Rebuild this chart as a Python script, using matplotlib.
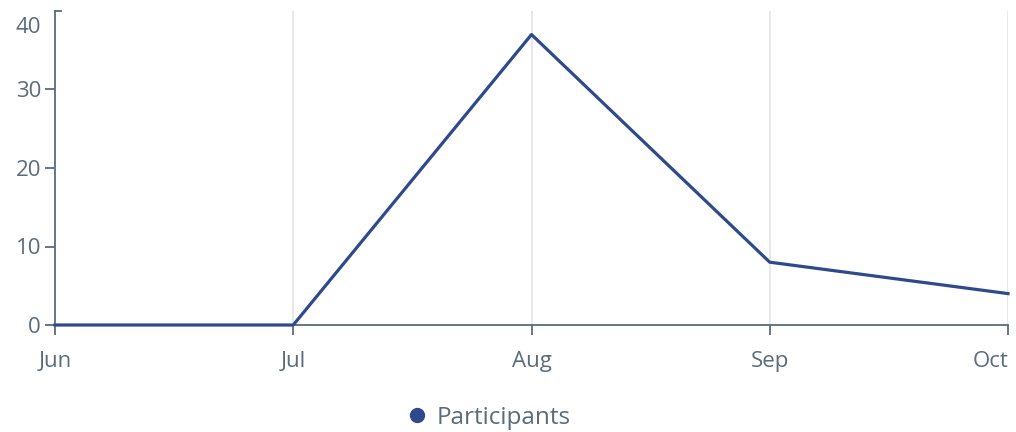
import matplotlib.pyplot as plt
from matplotlib.lines import Line2D

# data
months = ['Jun', 'Jul', 'Aug', 'Sep', 'Oct']
participants = [0, 0, 37, 8, 4]
y_ticks = [0, 10, 20, 30]

axis_color = '#5b6b7c'
line_color = '#2e4a8c'
grid_color = '#e6e6e6'
fs = 16

plt.rcParams['font.family'] = ['Open Sans', 'DejaVu Sans']

fig = plt.figure(figsize=(10.16, 4.32), dpi=100)
ax = fig.add_axes([55 / 1016, 1 - 325 / 432, (1008 - 55) / 1016, (325 - 11) / 432])

x = list(range(len(months)))
for xi in x[1:]:
    ax.axvline(xi, color=grid_color, lw=1.3, zorder=0)

ax.plot(x, participants, color=line_color, lw=2.3, zorder=3, clip_on=False)

ax.set_xlim(0, len(months) - 1)
ax.set_ylim(0, 40)
ax.set_xticks(x)
ax.set_xticklabels(months)
ax.set_yticks(y_ticks)
ax.set_yticklabels([str(v) for v in y_ticks])

for side in ['top', 'right']:
    ax.spines[side].set_visible(False)
for side in ['left', 'bottom']:
    ax.spines[side].set_color(axis_color)
    ax.spines[side].set_linewidth(1.3)

ax.tick_params(axis='x', colors=axis_color, length=7, width=1.3, pad=12,
               labelsize=fs, labelcolor=axis_color)
ax.tick_params(axis='y', colors=axis_color, length=7, width=1.3, pad=3,
               labelsize=fs, labelcolor=axis_color)
ax.get_xticklabels()[-1].set_horizontalalignment('right')

# top label sits a bit below the top of the axis
ax.annotate('40', xy=(0, 40), xycoords=('axes fraction', 'data'),
            xytext=(-10, -12), textcoords='offset points',
            ha='right', va='center', fontsize=fs, color=axis_color)
# small outer tick at the top of the y axis
ax.plot([0, 0.006], [40, 40], color=axis_color, lw=1.3,
        transform=ax.get_yaxis_transform(), clip_on=False)

handle = Line2D([], [], color=line_color, marker='o', linestyle='none', markersize=10)
fig.legend([handle], ['Participants'], loc='center', bbox_to_anchor=(488 / 1016, 1 - 418 / 432),
           frameon=False, fontsize=17.5, labelcolor=axis_color, handletextpad=0.3,
           handlelength=1.0)

fig.savefig('out.png', dpi=100)
